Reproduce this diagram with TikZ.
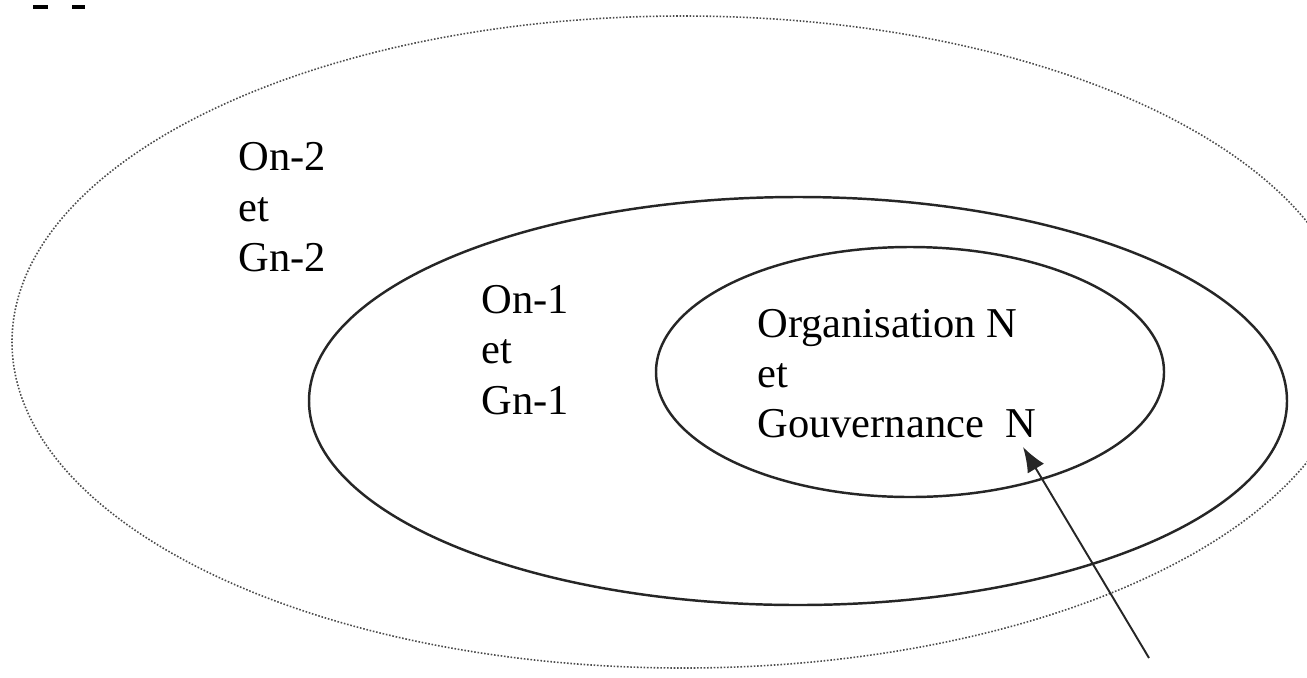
\documentclass[tikz,border=0pt]{standalone}
\usepackage{fontspec}
\setmainfont{Liberation Serif}
\usetikzlibrary{arrows.meta}

\begin{document}
\begin{tikzpicture}[
    x=0.02cm, y=-0.02cm,
    every node/.style={inner sep=0pt, anchor=base west, font=\fontsize{24.2}{29}\selectfont},
    niveau/.style={line width=1.4pt, draw=black!85},
    externe/.style={line width=0.9pt, densely dotted, draw=black!70},
    fleche/.style={line width=1.1pt, draw=black!85, -{Latex[length=0.5cm, width=0.38cm]}}
]
   \useasboundingbox (0,0) rectangle (1307,677);
   \clip (0,0) rectangle (1307,677);

   % remnants of the line above
   \draw[line width=2pt] (33,7) -- (48,7);
   \draw[line width=2pt] (72,7) -- (85,7);

   % Ellipses
   \draw[externe] (683,342) ellipse [x radius=671, y radius=326];
   \draw[niveau] (798,401) ellipse [x radius=489, y radius=204];
   \draw[niveau] (910,372) ellipse [x radius=254, y radius=125];

   % Level n-2
   \node (on2) at (238,170) {On-2};
   \node (et2) at (238,221) {et};
   \node (gn2) at (238,271) {Gn-2};

   % Level n-1
   \node (on1) at (481,313) {On-1};
   \node (et1) at (481,363) {et};
   \node (gn1) at (481,414) {Gn-1};

   % Level n
   \node (orgN) at (757,337) {Organisation N};
   \node (etN) at (757,387) {et};
   \node (gouvN) at (757,437) {Gouvernance\ \ N};

   % Arrow
   \coordinate (pointe) at (1023,447);
   \coordinate (depart) at (1149,658);
   \draw[fleche] (depart) -- (pointe);
\end{tikzpicture}
\end{document}
